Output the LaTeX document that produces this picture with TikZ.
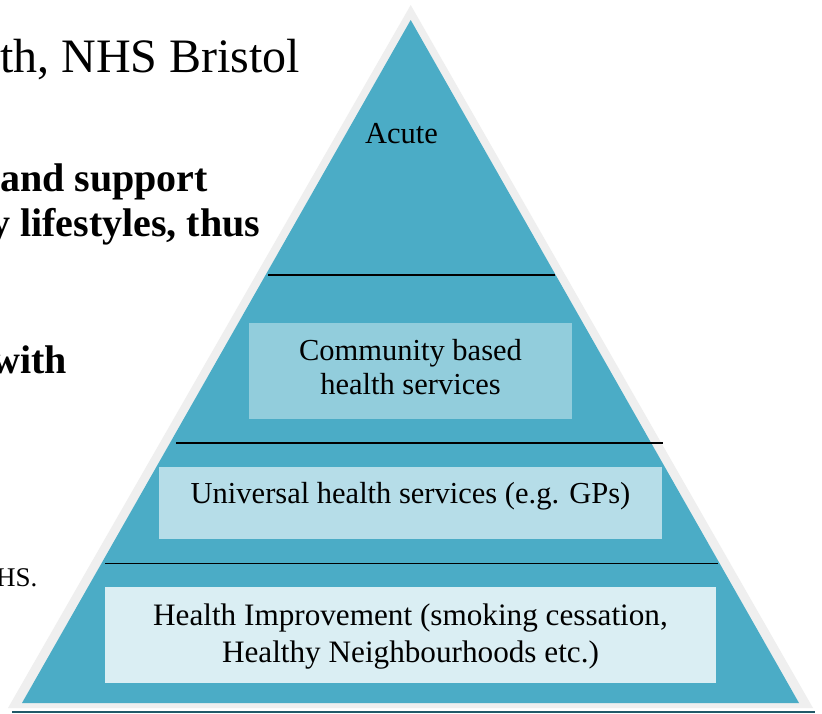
\documentclass[tikz,border=0pt]{standalone}
\usepackage{fontspec}
\setmainfont{Liberation Serif}
\definecolor{pyrteal}{HTML}{4BACC6}
\definecolor{pyrgrey}{HTML}{EFEFEF}
\definecolor{boxdark}{HTML}{92CDDC}
\definecolor{boxmid}{HTML}{B6DDE8}
\definecolor{boxlight}{HTML}{DAEEF3}
\definecolor{baseteal}{HTML}{215968}
\tikzset{
  tierbox/.style={draw=none, rectangle, inner sep=0pt},
  tiertext/.style={align=center, inner sep=0pt, text=black},
  sepline/.style={draw=black, line width=1.5pt},
  boldtext/.style={anchor=base west, inner sep=0pt, font=\fontsize{40}{46}\selectfont\bfseries},
}
\begin{document}
\begin{tikzpicture}[x=1pt,y=-1pt]
\useasboundingbox (0,0) rectangle (822,713);
\clip (0,0) rectangle (822,713);
\fill[white] (0,0) rectangle (822,713);
% left-hand background text
\node[anchor=base west, inner sep=0pt, font=\fontsize{48}{56}\selectfont] (title) at (0,72) {th, NHS Bristol};
\node[boldtext] (b1) at (0,191) {and support};
\node[boldtext] (b2) at (-10,236) {y lifestyles, thus};
\node[boldtext] (b3) at (-9,373) {with};
\node[anchor=base west, inner sep=0pt, font=\fontsize{27}{32}\selectfont] (hs) at (-4,586) {HS.};
% pyramid
\fill[pyrgrey] (410.7,5) -- (8,708) -- (813,708) -- cycle;
\fill[pyrteal] (410.7,20) -- (22,703) -- (799,703) -- cycle;
\draw[baseteal, line width=2pt] (12,711.5) -- (815,711.5);
% separators
\draw[sepline] (268,275) -- (555,275);
\draw[sepline] (176,443) -- (663,443);
\draw[sepline] (105,563.5) -- (718,563.5);
% tiers
\node[tierbox, fill=boxdark, minimum width=323pt, minimum height=96pt] (community) at (410.5,371) {};
\node[tierbox, fill=boxmid, minimum width=503pt, minimum height=72pt] (universal) at (410.5,503) {};
\node[tierbox, fill=boxlight, minimum width=611pt, minimum height=96pt] (improve) at (410.5,635) {};
\begin{scope}[font=\fontsize{30.5}{34}\selectfont]
\node[tiertext] (acute) at (401.5,134) {Acute};
\node[tiertext] (communitytext) at (410.5,367.5) {Community based\\health services};
\node[tiertext] (universaltext) at (410.5,496.5) {Universal health services (e.g. GPs)};
\node[tiertext, font=\fontsize{31.2}{37}\selectfont] (improvetext) at (410.5,636.5) {Health Improvement (smoking cessation,\\Healthy Neighbourhoods etc.)};
\end{scope}
\end{tikzpicture}
\end{document}
